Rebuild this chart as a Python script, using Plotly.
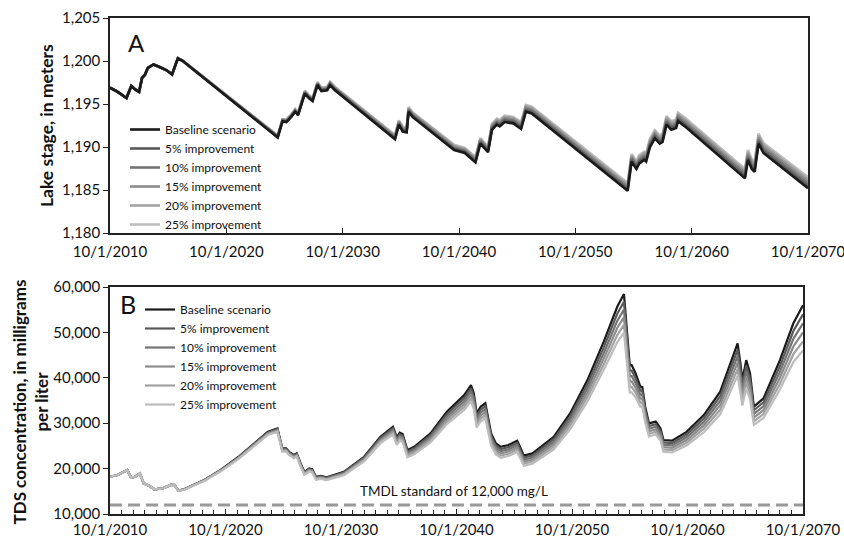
import plotly.graph_objects as go

# ---------------------------------------------------------------------------
# Scenario names and line colours (baseline darkest, 25% lightest)
# ---------------------------------------------------------------------------
scenarios = ["Baseline scenario", "5% improvement", "10% improvement",
             "15% improvement", "20% improvement", "25% improvement"]
colors = ["#1a1a1a", "#595959", "#737373", "#8c8c8c", "#a3a3a3", "#bdbdbd"]

# ---------------------------------------------------------------------------
# Panel A: lake stage, in meters
# ---------------------------------------------------------------------------
stage_dates = [
    "2010-10", "2011-06", "2012-03", "2012-08", "2012-12", "2013-04", "2013-07", "2013-10",
    "2014-01", "2014-07", "2015-01", "2015-08", "2016-02", "2016-08", "2017-01", "2025-03",
    "2025-08", "2025-12", "2026-05", "2026-09", "2026-12", "2027-07", "2027-11", "2028-03",
    "2028-08", "2028-12", "2029-06", "2029-09", "2030-02", "2034-02", "2035-04", "2035-08",
    "2035-12", "2036-04", "2036-06", "2036-10", "2040-05", "2041-04", "2042-03", "2042-08",
    "2042-12", "2043-04", "2043-08", "2044-01", "2044-04", "2044-09", "2045-06", "2046-02",
    "2046-07", "2047-01", "2055-04", "2055-08", "2056-01", "2056-04", "2056-09", "2056-11",
    "2057-03", "2057-08", "2058-01", "2058-04", "2058-08", "2059-01", "2059-06", "2059-08",
    "2060-03", "2065-05", "2065-08", "2065-12", "2066-03", "2066-07", "2066-12", "2070-10",
]

stage_early = [1196.9, 1196.4, 1195.7, 1197.1, 1196.7, 1196.4, 1198.0, 1198.4,
               1199.2, 1199.6, 1199.3, 1198.95, 1198.45]

stage_baseline = stage_early + [
    1200.3, 1200.0, 1191.1, 1193.0, 1192.9, 1193.5, 1194.1, 1193.7, 1196.2, 1195.7, 1195.35,
    1197.2, 1196.5, 1196.6, 1197.2, 1196.6, 1192.2, 1190.9, 1192.6, 1191.8, 1191.7, 1194.1,
    1193.5, 1189.65, 1189.3, 1188.2, 1190.4, 1189.85, 1189.4, 1192.0, 1192.6, 1192.4, 1192.9,
    1192.75, 1192.1, 1194.1, 1193.9, 1184.9, 1188.3, 1187.45, 1188.1, 1188.5, 1188.3, 1190.0,
    1191.0, 1190.4, 1190.6, 1192.6, 1192.0, 1192.2, 1193.0, 1192.4, 1186.35, 1188.5, 1187.45,
    1187.1, 1190.4, 1189.3, 1185.2]

stage_5 = stage_early + [
    1200.31, 1200.01, 1191.15, 1193.05, 1192.96, 1193.56, 1194.16, 1193.76, 1196.27, 1195.77,
    1195.42, 1197.27, 1196.58, 1196.68, 1197.28, 1196.68, 1192.3, 1191.0, 1192.7, 1191.91,
    1191.81, 1194.21, 1193.61, 1189.77, 1189.42, 1188.33, 1190.53, 1189.98, 1189.54, 1192.14,
    1192.74, 1192.55, 1193.05, 1192.9, 1192.26, 1194.26, 1194.06, 1185.08, 1188.48, 1187.63,
    1188.29, 1188.69, 1188.49, 1190.19, 1191.19, 1190.59, 1190.79, 1192.8, 1192.2, 1192.4,
    1193.2, 1192.6, 1186.57, 1188.73, 1187.68, 1187.33, 1190.63, 1189.53, 1185.46]

stage_10 = stage_early + [
    1200.32, 1200.02, 1191.2, 1193.1, 1193.02, 1193.62, 1194.22, 1193.82, 1196.34, 1195.84,
    1195.49, 1197.34, 1196.66, 1196.76, 1197.36, 1196.76, 1192.4, 1191.1, 1192.8, 1192.02,
    1191.92, 1194.32, 1193.72, 1189.89, 1189.54, 1188.46, 1190.66, 1190.11, 1189.68, 1192.28,
    1192.88, 1192.7, 1193.2, 1193.05, 1192.42, 1194.42, 1194.22, 1185.26, 1188.66, 1187.81,
    1188.48, 1188.88, 1188.68, 1190.38, 1191.38, 1190.78, 1190.98, 1193.0, 1192.4, 1192.6,
    1193.4, 1192.8, 1186.79, 1188.96, 1187.91, 1187.56, 1190.86, 1189.76, 1185.72]

stage_15 = stage_early + [
    1200.33, 1200.03, 1191.25, 1193.15, 1193.08, 1193.68, 1194.28, 1193.88, 1196.41, 1195.91,
    1195.56, 1197.41, 1196.74, 1196.84, 1197.44, 1196.84, 1192.5, 1191.2, 1192.9, 1192.13,
    1192.03, 1194.43, 1193.83, 1190.01, 1189.66, 1188.59, 1190.79, 1190.24, 1189.82, 1192.42,
    1193.02, 1192.85, 1193.35, 1193.2, 1192.58, 1194.58, 1194.38, 1185.44, 1188.84, 1187.99,
    1188.67, 1189.07, 1188.87, 1190.57, 1191.57, 1190.97, 1191.17, 1193.2, 1192.6, 1192.8,
    1193.6, 1193.0, 1187.01, 1189.19, 1188.14, 1187.79, 1191.09, 1189.99, 1185.98]

stage_20 = stage_early + [
    1200.34, 1200.04, 1191.3, 1193.2, 1193.14, 1193.74, 1194.34, 1193.94, 1196.48, 1195.98,
    1195.63, 1197.48, 1196.82, 1196.92, 1197.52, 1196.92, 1192.6, 1191.3, 1193.0, 1192.24,
    1192.14, 1194.54, 1193.94, 1190.13, 1189.78, 1188.72, 1190.92, 1190.37, 1189.96, 1192.56,
    1193.16, 1193.0, 1193.5, 1193.35, 1192.74, 1194.74, 1194.54, 1185.62, 1189.02, 1188.17,
    1188.86, 1189.26, 1189.06, 1190.76, 1191.76, 1191.16, 1191.36, 1193.4, 1192.8, 1193.0,
    1193.8, 1193.2, 1187.23, 1189.42, 1188.37, 1188.02, 1191.32, 1190.22, 1186.24]

stage_25 = stage_early + [
    1200.35, 1200.05, 1191.35, 1193.25, 1193.2, 1193.8, 1194.4, 1194.0, 1196.55, 1196.05,
    1195.7, 1197.55, 1196.9, 1197.0, 1197.6, 1197.0, 1192.7, 1191.4, 1193.1, 1192.35,
    1192.25, 1194.65, 1194.05, 1190.25, 1189.9, 1188.85, 1191.05, 1190.5, 1190.1, 1192.7,
    1193.3, 1193.15, 1193.65, 1193.5, 1192.9, 1194.9, 1194.7, 1185.8, 1189.2, 1188.35,
    1189.05, 1189.45, 1189.25, 1190.95, 1191.95, 1191.35, 1191.55, 1193.6, 1193.0, 1193.2,
    1194.0, 1193.4, 1187.45, 1189.65, 1188.6, 1188.25, 1191.55, 1190.45, 1186.5]

# ---------------------------------------------------------------------------
# Panel B: TDS concentration, in milligrams per liter
# ---------------------------------------------------------------------------
tds_dates = [
    "2010-10", "2011-06", "2012-04", "2012-08", "2012-12", "2013-05", "2013-09", "2014-03",
    "2014-08", "2015-05", "2016-01", "2016-05", "2016-09", "2017-03", "2018-12", "2020-05",
    "2021-11", "2023-04", "2024-06", "2025-04", "2025-09", "2026-01", "2026-04", "2026-09",
    "2026-12", "2027-04", "2027-08", "2028-01", "2028-04", "2028-08", "2029-01", "2029-07",
    "2031-01", "2032-10", "2034-03", "2035-04", "2035-08", "2035-11", "2036-02", "2036-07",
    "2037-02", "2038-07", "2039-12", "2041-06", "2042-01", "2042-04", "2042-07", "2042-11",
    "2043-04", "2043-08", "2043-10", "2044-03", "2044-08", "2045-04", "2046-01", "2046-04",
    "2046-08", "2047-05", "2049-03", "2050-08", "2052-02", "2053-07", "2054-09", "2055-04",
    "2055-07", "2055-10", "2055-12", "2056-04", "2056-09", "2056-11", "2057-02", "2057-06",
    "2058-01", "2058-06", "2058-09", "2059-06", "2060-09", "2062-03", "2063-08", "2064-10",
    "2065-02", "2065-05", "2065-07", "2065-11", "2066-03", "2066-07", "2067-05", "2068-10",
    "2069-12", "2070-10",
]

tds_early = [18200, 18600, 19700, 18000, 18200, 18950, 16750, 16150, 15450, 15650, 16400]

tds_baseline = tds_early + [
    16400, 15150, 15450, 17500, 19700, 22500, 25550, 28100, 28850,
    24450, 24450, 23700, 23000, 23350, 21150, 19300, 20050, 19850, 18200,
    18400, 18100, 19300, 22600, 27000, 29200, 26900, 27900, 27600, 24100,
    24800, 27750, 32500, 36200, 38400, 36600, 32150, 33600, 34400, 29950,
    27750, 25550, 24800, 25200, 26150, 24800, 22850, 23350, 27000, 32150,
    39500, 47950, 55650, 58450, 50500, 42800, 42800, 41000, 38050, 38000,
    33650, 29950, 30350, 28850, 26300, 26150, 28100, 31800, 36950, 45000,
    47600, 43200, 39500, 43900, 41000, 33650, 35450, 43900, 52000, 56000]

tds_5 = tds_early + [
    16390, 15140, 15430, 17460, 19640, 22410, 25430, 27960, 28700,
    24310, 24310, 23560, 22860, 23210, 21010, 19170, 19910, 19710, 18070,
    18270, 17970, 19150, 22400, 26720, 28860, 26560, 27550, 27250, 23780,
    24470, 27350, 31960, 35540, 37680, 35900, 31530, 32960, 33740, 29370,
    27210, 25060, 24320, 24720, 25650, 24320, 22410, 22900, 26440, 31450,
    38560, 46710, 54090, 56750, 49040, 41600, 41600, 39940, 37170, 37120,
    32950, 29370, 29790, 28310, 25780, 25630, 27500, 31040, 35950, 43660,
    46180, 41900, 38380, 42660, 39860, 32850, 34590, 42600, 50300, 54000]

tds_10 = tds_early + [
    16380, 15130, 15410, 17420, 19580, 22320, 25310, 27820, 28550,
    24170, 24170, 23420, 22720, 23070, 20870, 19040, 19770, 19570, 17940,
    18140, 17840, 19000, 22200, 26440, 28520, 26220, 27200, 26900, 23460,
    24140, 26950, 31420, 34880, 36960, 35200, 30910, 32320, 33080, 28790,
    26670, 24570, 23840, 24240, 25150, 23840, 21970, 22450, 25880, 30750,
    37620, 45470, 52530, 55050, 47580, 40400, 40400, 38880, 36290, 36240,
    32250, 28790, 29230, 27770, 25260, 25110, 26900, 30280, 34950, 42320,
    44760, 40600, 37260, 41420, 38720, 32050, 33730, 41300, 48600, 52000]

tds_15 = tds_early + [
    16370, 15120, 15390, 17380, 19520, 22230, 25190, 27680, 28400,
    24030, 24030, 23280, 22580, 22930, 20730, 18910, 19630, 19430, 17810,
    18010, 17710, 18850, 22000, 26160, 28180, 25880, 26850, 26550, 23140,
    23810, 26550, 30880, 34220, 36240, 34500, 30290, 31680, 32420, 28210,
    26130, 24080, 23360, 23760, 24650, 23360, 21530, 22000, 25320, 30050,
    36680, 44230, 50970, 53350, 46120, 39200, 39200, 37820, 35410, 35360,
    31550, 28210, 28670, 27230, 24740, 24590, 26300, 29520, 33950, 40980,
    43340, 39300, 36140, 40180, 37580, 31250, 32870, 40000, 46900, 50000]

tds_20 = tds_early + [
    16360, 15110, 15370, 17340, 19460, 22140, 25070, 27540, 28250,
    23890, 23890, 23140, 22440, 22790, 20590, 18780, 19490, 19290, 17680,
    17880, 17580, 18700, 21800, 25880, 27840, 25540, 26500, 26200, 22820,
    23480, 26150, 30340, 33560, 35520, 33800, 29670, 31040, 31760, 27630,
    25590, 23590, 22880, 23280, 24150, 22880, 21090, 21550, 24760, 29350,
    35740, 42990, 49410, 51650, 44660, 38000, 38000, 36760, 34530, 34480,
    30850, 27630, 28110, 26690, 24220, 24070, 25700, 28760, 32950, 39640,
    41920, 38000, 35020, 38940, 36440, 30450, 32010, 38700, 45200, 48000]

tds_25 = tds_early + [
    16350, 15100, 15350, 17300, 19400, 22050, 24950, 27400, 28100,
    23750, 23750, 23000, 22300, 22650, 20450, 18650, 19350, 19150, 17550,
    17750, 17450, 18550, 21600, 25600, 27500, 25200, 26150, 25850, 22500,
    23150, 25750, 29800, 32900, 34800, 33100, 29050, 30400, 31100, 27050,
    25050, 23100, 22400, 22800, 23650, 22400, 20650, 21100, 24200, 28650,
    34800, 41750, 47850, 49950, 43200, 36800, 36800, 35700, 33650, 33600,
    30150, 27050, 27550, 26150, 23700, 23550, 25100, 28000, 31950, 38300,
    40500, 36700, 33900, 37700, 35300, 29650, 31150, 37400, 43500, 46000]

tmdl_standard = 12000
x_start, x_end = "2010-10-01", "2070-10-01"

tick_dates = ["2010-10-01", "2020-10-01", "2030-10-01", "2040-10-01",
              "2050-10-01", "2060-10-01", "2070-10-01"]
tick_labels = ["10/1/2010", "10/1/2020", "10/1/2030", "10/1/2040",
               "10/1/2050", "10/1/2060", "10/1/2070"]

stage_series = [stage_baseline, stage_5, stage_10, stage_15, stage_20, stage_25]
tds_series = [tds_baseline, tds_5, tds_10, tds_15, tds_20, tds_25]

FONT = "Lato"
INK = "#111111"

fig = go.Figure()

# Lake stage: lightest scenario underneath, baseline drawn on top
for name, vals, col in reversed(list(zip(scenarios, stage_series, colors))):
    fig.add_trace(go.Scatter(
        x=stage_dates, y=vals, name=name, mode="lines",
        line=dict(color=col, width=2.6), xaxis="x", yaxis="y", legend="legend",
    ))

# TDS: baseline underneath, lighter scenarios drawn over it
for name, vals, col in zip(scenarios, tds_series, colors):
    fig.add_trace(go.Scatter(
        x=tds_dates, y=vals, name=name, mode="lines",
        line=dict(color=col, width=2.2), xaxis="x2", yaxis="y2", legend="legend2",
    ))

# TMDL standard reference line
fig.add_trace(go.Scatter(
    x=[x_start, x_end], y=[tmdl_standard, tmdl_standard], mode="lines",
    line=dict(color="#999999", width=3, dash="12px,6px"),
    xaxis="x2", yaxis="y2", showlegend=False, hoverinfo="skip",
))

W, H = 844, 537

def px_x(p):
    return p / W

def px_y(p):
    return 1 - p / H

axis_common = dict(
    showline=True, mirror=True, linecolor="#222222", linewidth=1.5,
    showgrid=False, zeroline=False,
    tickfont=dict(family=FONT, size=15, color=INK),
    tickcolor="#222222", tickwidth=1.2,
    ticklabeloverflow="allow",
)

legend_common = dict(
    bgcolor="rgba(0,0,0,0)", borderwidth=0,
    font=dict(family=FONT, size=12, color=INK),
    xanchor="left", yanchor="top",
)

fig.update_layout(
    template="none",
    width=W, height=H,
    margin=dict(l=0, r=0, t=0, b=0),
    paper_bgcolor="white", plot_bgcolor="white",
    font=dict(family=FONT, color=INK),
    xaxis=dict(
        axis_common, domain=[px_x(110), px_x(808)], anchor="y", type="date",
        range=[x_start, x_end], tickvals=tick_dates, ticktext=tick_labels,
        ticks="inside", ticklen=5, ticklabelstandoff=4,
    ),
    yaxis=dict(
        axis_common, domain=[px_y(233), px_y(18)], anchor="x",
        range=[1180, 1205], tick0=1180, dtick=5, tickformat=",d",
        ticks="outside", ticklen=5,
    ),
    xaxis2=dict(
        axis_common, domain=[px_x(110), px_x(803)], anchor="y2", type="date",
        range=[x_start, x_end], tickvals=tick_dates, ticktext=tick_labels,
        ticks="inside", ticklen=5, ticklabelstandoff=1,
        minor=dict(ticks="inside", ticklen=4, tick0=x_start, dtick="M12",
                   tickcolor="#222222", tickwidth=1, showgrid=False),
    ),
    yaxis2=dict(
        axis_common, domain=[px_y(514), px_y(287)], anchor="x2",
        range=[10000, 60000], tick0=10000, dtick=10000, tickformat=",d",
        ticks="outside", ticklen=5,
    ),
    legend=dict(legend_common, x=px_x(125), y=px_y(115), traceorder="reversed"),
    legend2=dict(legend_common, x=px_x(140), y=px_y(295), traceorder="normal"),
    showlegend=True,
)

annotations = [
    dict(text="A", x=px_x(136), y=px_y(42), font=dict(family=FONT, size=24, color=INK)),
    dict(text="B", x=px_x(127.5), y=px_y(304), font=dict(family=FONT, size=25, color=INK)),
    dict(text="Lake stage, in meters", x=px_x(47), y=px_y(126), textangle=-90,
         font=dict(family=FONT, size=17.5, color=INK, weight="bold")),
    dict(text="TDS concentration, in milligrams<br>per liter", x=px_x(29.5), y=px_y(402),
         textangle=-90, font=dict(family=FONT, size=17, color=INK, weight="bold")),
]
for a in annotations:
    a.update(xref="paper", yref="paper", showarrow=False, xanchor="center", yanchor="middle")

annotations.append(dict(
    text="TMDL standard of 12,000 mg/L", xref="x2", yref="y2",
    x="2040-07-01", y=tmdl_standard, yshift=14, showarrow=False,
    xanchor="center", yanchor="middle",
    font=dict(family=FONT, size=13.5, color=INK),
))
fig.update_layout(annotations=annotations)

fig.write_html("out.html")
